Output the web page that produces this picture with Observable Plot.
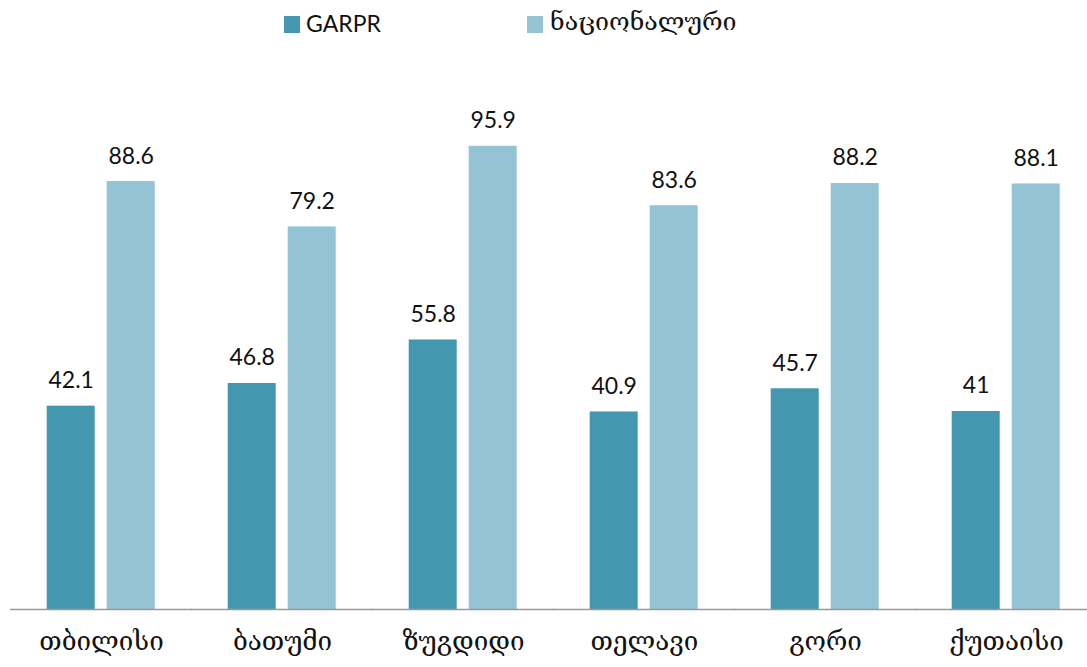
<!DOCTYPE html>
<html>
<head>
<meta charset="utf-8">
<script src="https://cdn.jsdelivr.net/npm/d3@7"></script>
<script src="https://cdn.jsdelivr.net/npm/@observablehq/plot@0.6"></script>
<style>
  html, body { margin: 0; padding: 0; background: #fff; }
  body { width: 1087px; height: 667px; overflow: hidden; font-family: Lato, "DejaVu Serif", sans-serif; }
  #legend { position: relative; height: 50px; }
  .sw { position: absolute; top: 16px; width: 16px; height: 17px; }
  .lb { position: absolute; top: 8px; font-size: 23px; color: #111; line-height: 30px; }
  .ka { font-family: "DejaVu Serif", "DejaVu Sans", serif; font-size: 25px; top: 7px; }
  #chart svg { display: block; }
</style>
</head>
<body>
<div id="legend">
  <div class="sw" style="left:284px;background:#4398AF"></div>
  <div class="lb" style="left:306px">GARPR</div>
  <div class="sw" style="left:527px;background:#93C3D5"></div>
  <div class="lb ka" style="left:550px">ნაციონალური</div>
</div>
<div id="chart"></div>
<script>
const cities = ["თბილისი", "ბათუმი", "ზუგდიდი", "თელავი", "გორი", "ქუთაისი"];
const series = ["GARPR", "ნაციონალური"];
const garpr = [42.1, 46.8, 55.8, 40.9, 45.7, 41];
const national = [88.6, 79.2, 95.9, 83.6, 88.2, 88.1];
const colors = ["#4398AF", "#93C3D5"];

const data = [];
cities.forEach((c, i) => {
  data.push({city: c, series: series[0], value: garpr[i]});
  data.push({city: c, series: series[1], value: national[i]});
});

const chart = Plot.plot({
  width: 1087,
  height: 617,
  marginLeft: 9.3,
  marginRight: -10.7,
  marginTop: 76,
  marginBottom: 58,
  style: {fontFamily: 'Lato, "DejaVu Serif", sans-serif', background: "#fff"},
  fx: {domain: cities, paddingInner: 0.405, paddingOuter: 0.2025},
  x: {domain: series, paddingInner: 0.2, paddingOuter: 0, axis: null},
  y: {domain: [0, 100], axis: null},
  color: {domain: series, range: colors},
  marks: [
    Plot.barY(data, {fx: "city", x: "series", y: "value", fill: "series"}),
    Plot.text(data, {fx: "city", x: "series", y: "value", text: d => String(d.value),
      lineAnchor: "bottom", dy: -18, fontSize: 23, fill: "#111"}),
    Plot.ruleY([0], {stroke: "#999", strokeWidth: 1.5, insetLeft: -37, insetRight: -37}),
    Plot.axisFx({anchor: "bottom", tickSize: 0, tickPadding: 22, fontSize: 26, label: null,
      fontFamily: '"DejaVu Serif", "DejaVu Sans", serif', color: "#111"})
  ]
});
document.getElementById("chart").appendChild(chart);
</script>
</body>
</html>
